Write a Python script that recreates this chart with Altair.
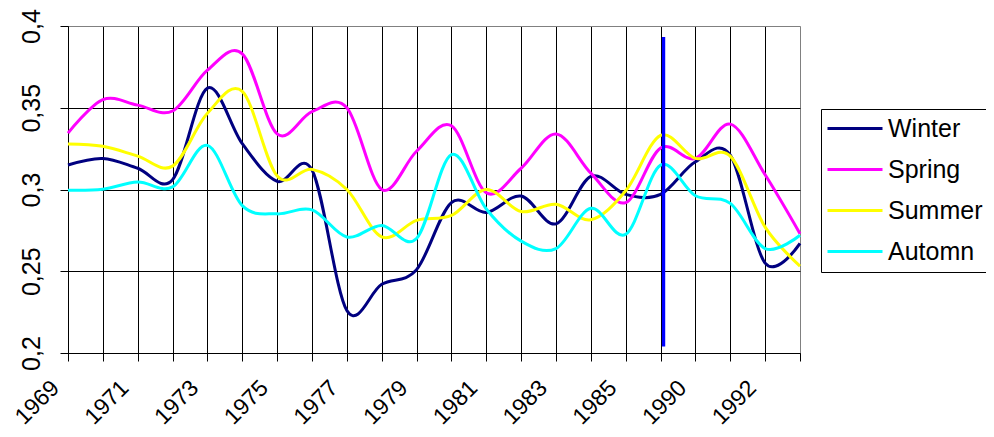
import json
import altair as alt
import pandas as pd

years = ["1969", "1970", "1971", "1972", "1973", "1974", "1975", "1976", "1977",
         "1978", "1979", "1980", "1981", "1982", "1983", "1984", "1985", "1989",
         "1990", "1991", "1992", "1993"]
seasons = ["Winter", "Spring", "Summer", "Automn"]
colors = ["#000080", "#FF00FF", "#FFFF00", "#00FFFF"]

winter = [0.315, 0.319, 0.313, 0.306, 0.362, 0.328, 0.305, 0.312, 0.226, 0.242, 0.251,
          0.292, 0.286, 0.296, 0.279, 0.308, 0.297, 0.297, 0.317, 0.321, 0.255, 0.267]
spring = [0.3345, 0.355, 0.3516, 0.348, 0.373, 0.383, 0.334, 0.3476, 0.350, 0.300, 0.3234,
          0.339, 0.298, 0.313, 0.334, 0.310, 0.292, 0.3254, 0.319, 0.340, 0.309, 0.273]
summer = [0.3278, 0.3264, 0.3204, 0.3143, 0.3466, 0.360, 0.3083, 0.3123, 0.300, 0.271, 0.2811,
          0.2841, 0.300, 0.2865, 0.291, 0.2815, 0.2992, 0.3331, 0.319, 0.3204, 0.277, 0.2532]
automn = [0.2996, 0.3002, 0.3046, 0.3016, 0.327, 0.2901, 0.2851, 0.2875, 0.271, 0.278, 0.270,
          0.3214, 0.2881, 0.2684, 0.2639, 0.2885, 0.2726, 0.3149, 0.2962, 0.2915, 0.2639, 0.272]

y_ticks = [0.2, 0.25, 0.3, 0.35, 0.4]
shown_labels = years[::2]

marker_year = ["1989"]
marker_top = [0.3933]
marker_bottom = [0.2039]

series = {"Winter": winter, "Spring": spring, "Summer": summer, "Automn": automn}
rows = []
for s in seasons:
    for i, (yr, v) in enumerate(zip(years, series[s])):
        rows.append({"year": yr, "season": s, "value": v, "order": i})
df = pd.DataFrame(rows)

marker_df = pd.DataFrame({"year": marker_year, "top": marker_top, "bottom": marker_bottom})

FONT = "Liberation Sans"

x_enc = alt.X(
    "year:O",
    sort=years,
    scale=alt.Scale(type="point", padding=0),
    axis=alt.Axis(
        title=None,
        labelExpr="indexof(%s, datum.value) >= 0 ? datum.value : ''" % json.dumps(shown_labels),
        labelAngle=315,
        labelAlign="right",
        labelBaseline="middle",
        labelOffset=-13,
        labelPadding=23,
        labelFontSize=23,
        labelFont=FONT,
        labelColor="black",
        tickSize=8,
        tickColor="black",
        domainColor="black",
        grid=True,
        gridColor={"condition": {"test": "datum.value == '1993'", "value": "#808080"}, "value": "black"},
        gridWidth=1,
        labelOverlap=False,
    ),
)

y_scale = alt.Scale(domain=[0.2, 0.4], nice=False, zero=False)
y_axis = alt.Axis(
    title=None,
    values=y_ticks,
    labelExpr="replace(format(datum.value, '.2~f'), '.', ',')",
    labelAngle=270,
    labelAlign="center",
    labelBaseline="alphabetic",
    labelPadding=21,
    labelFontSize=25,
    labelFont=FONT,
    labelColor="black",
    tickSize=8,
    tickColor="black",
    domainColor="black",
    grid=True,
    gridColor={"condition": {"test": "datum.value >= 0.399", "value": "#808080"}, "value": "black"},
    gridWidth=1,
)

lines = alt.Chart(df).mark_line(interpolate="cardinal", tension=0, strokeWidth=3).encode(
    x=x_enc,
    y=alt.Y("value:Q", scale=y_scale, axis=y_axis),
    color=alt.Color(
        "season:N",
        scale=alt.Scale(domain=seasons, range=colors),
        sort=seasons,
        legend=alt.Legend(
            orient="none",
            legendX=753,
            legendY=83,
            title=None,
            symbolType="M-1.857,0H6",
            symbolSize=196,
            symbolStrokeWidth=3,
            labelFontSize=25,
            labelFont=FONT,
            labelColor="black",
            labelOffset=35,
            rowPadding=15,
            padding=7,
            strokeColor="black",
            fillColor="white",
        ),
    ),
    order="order:Q",
)

marker = alt.Chart(marker_df).mark_rule(color="#0000FF", strokeWidth=3.3, xOffset=3).encode(
    x=alt.X("year:O", sort=years),
    y=alt.Y("top:Q", scale=y_scale),
    y2="bottom:Q",
)

chart = alt.layer(lines, marker).properties(
    width=732,
    height=327,
    autosize=alt.AutoSizeParams(type="none"),
    padding={"left": 60, "top": 18, "right": 186, "bottom": 76},
).configure_view(
    fill="#C0C0C0", stroke="#808080", strokeWidth=2
).configure(font=FONT)

chart.save("out.html", embed_options={"renderer": "svg", "actions": False})
